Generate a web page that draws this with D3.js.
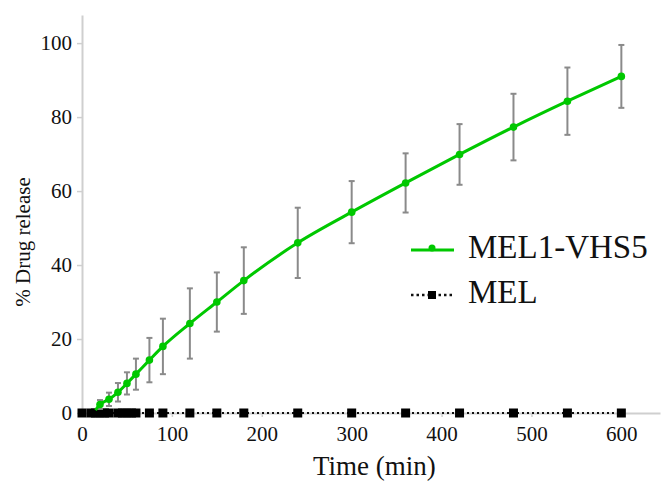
<!DOCTYPE html>
<html><head><meta charset="utf-8">
<script src="https://cdn.jsdelivr.net/npm/d3@7"></script>
<style>body{margin:0;background:#fff}svg{display:block}svg text{font-family:"Liberation Serif","Times New Roman","DejaVu Serif",serif !important;fill:#111}</style>
</head><body>
<svg id="c" width="662" height="481"></svg>
<script>
const seriesNames = ["MEL1-VHS5", "MEL"];
const timesA = [15, 20, 30, 40, 50, 60, 75, 90, 120, 150, 180, 240, 300, 360, 420, 480, 540, 600];
const valuesA = [0.8, 2.3, 3.7, 5.6, 8.0, 10.5, 14.3, 18.0, 24.2, 30.0, 35.8, 46.0, 54.3, 62.2, 69.9, 77.3, 84.3, 91.0];
const errorsA = [0.3, 1.2, 1.8, 2.5, 3.0, 4.2, 6.0, 7.5, 9.5, 8.0, 9.0, 9.5, 8.4, 8.0, 8.2, 9.0, 9.1, 8.5];
const timesB = [0, 10, 15, 20, 25, 30, 40, 45, 50, 55, 60, 75, 90, 120, 150, 180, 240, 300, 360, 420, 480, 540, 600];
const valuesB = [0, 0, 0, 0, 0, 0, 0, 0, 0, 0, 0, 0, 0, 0, 0, 0, 0, 0, 0, 0, 0, 0, 0];
const xTicks = [0, 100, 200, 300, 400, 500, 600];
const yTicks = [0, 20, 40, 60, 80, 100];

const FONT = '"Liberation Serif","Times New Roman",serif';
const svg = d3.select("#c");
const x = d3.scaleLinear().domain([0, 643]).range([82, 660]);
const y = d3.scaleLinear().domain([0, 107.6]).range([413, 15]);
const green = "#00c800", gray = "#8a8a8a", axisGray = "#cfcfcf";

// axes
const gx = svg.append("g").attr("transform", `translate(0,${y(0)})`)
  .call(d3.axisBottom(x).tickValues(xTicks).tickSize(4).tickPadding(9).tickSizeOuter(0));
const gy = svg.append("g").attr("transform", `translate(${x(0)},0)`)
  .call(d3.axisLeft(y).tickValues(yTicks).tickSize(5).tickPadding(5).tickSizeOuter(0));
[gx, gy].forEach(g => {
  g.attr("font-family", FONT).attr("font-size", 21);
  g.select(".domain").attr("stroke", axisGray).attr("stroke-width", 2);
  g.selectAll(".tick line").attr("stroke", axisGray).attr("stroke-width", 1.5);
  g.selectAll(".tick text").attr("fill", "#111");
});

// axis titles
svg.append("text").attr("x", 313).attr("y", 475).attr("font-family", FONT).attr("font-size", 27).text("Time (min)");
svg.append("text").attr("transform", "translate(30,242) rotate(-90)").attr("text-anchor", "middle")
  .attr("font-family", FONT).attr("font-size", 21).text("% Drug release");

// MEL series (dotted + squares)
const dataB = timesB.map((t, i) => ({t, v: valuesB[i]}));
svg.append("path").datum(dataB)
  .attr("d", d3.line().x(d => x(d.t)).y(d => y(d.v)))
  .attr("fill", "none").attr("stroke", "#111").attr("stroke-width", 2).attr("stroke-dasharray", "2,3");
svg.selectAll("rect.mel").data(dataB).enter().append("rect").attr("class", "mel")
  .attr("x", d => x(d.t) - 4.5).attr("y", d => y(d.v) - 4.5).attr("width", 9).attr("height", 9).attr("fill", "#000");

// MEL1-VHS5 series
const dataA = timesA.map((t, i) => ({t, v: valuesA[i], e: errorsA[i]}));
const eb = svg.append("g").attr("stroke", gray).attr("stroke-width", 2);
dataA.forEach(d => {
  if (d.e < 0.5) return;
  eb.append("line").attr("x1", x(d.t)).attr("x2", x(d.t)).attr("y1", y(d.v - d.e)).attr("y2", y(d.v + d.e));
  eb.append("line").attr("x1", x(d.t) - 3).attr("x2", x(d.t) + 3).attr("y1", y(d.v + d.e)).attr("y2", y(d.v + d.e));
  eb.append("line").attr("x1", x(d.t) - 3).attr("x2", x(d.t) + 3).attr("y1", y(d.v - d.e)).attr("y2", y(d.v - d.e));
});
svg.append("path").datum(dataA)
  .attr("d", d3.line().curve(d3.curveMonotoneX).x(d => x(d.t)).y(d => y(d.v)))
  .attr("fill", "none").attr("stroke", green).attr("stroke-width", 3);
svg.selectAll("circle.a").data(dataA.slice(1)).enter().append("circle").attr("class", "a")
  .attr("cx", d => x(d.t)).attr("cy", d => y(d.v)).attr("r", 3.8).attr("fill", green);

// legend
const lg = svg.append("g").attr("font-family", FONT);
lg.append("line").attr("x1", 411).attr("x2", 454).attr("y1", 250).attr("y2", 250).attr("stroke", green).attr("stroke-width", 3);
lg.append("circle").attr("cx", 432).attr("cy", 248).attr("r", 3.5).attr("fill", green);
lg.append("text").attr("x", 468).attr("y", 258).attr("font-size", 33).text(seriesNames[0]);
lg.append("line").attr("x1", 411).attr("x2", 453).attr("y1", 295).attr("y2", 295).attr("stroke", "#111").attr("stroke-width", 2.5).attr("stroke-dasharray", "2.5,3");
lg.append("rect").attr("x", 428).attr("y", 291).attr("width", 8).attr("height", 8).attr("fill", "#000");
lg.append("text").attr("x", 468).attr("y", 303).attr("font-size", 33).text(seriesNames[1]);
</script>
</body></html>
